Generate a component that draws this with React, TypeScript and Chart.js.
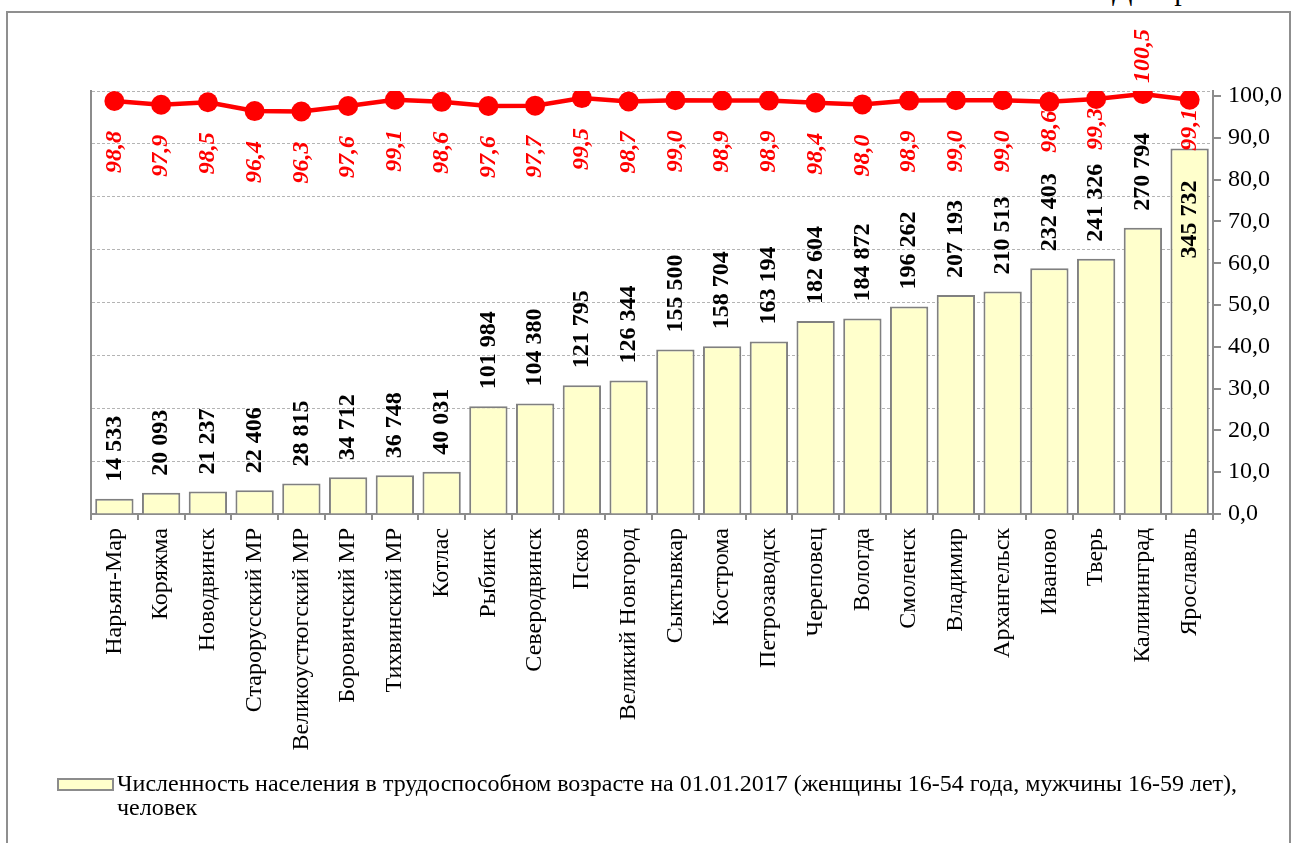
import React, { useEffect, useRef } from "react";
import { Chart, registerables } from "chart.js";

Chart.register(...registerables);

const categories: string[] = [
  "Нарьян-Мар", "Коряжма", "Новодвинск", "Старорусский МР", "Великоустюгский МР",
  "Боровичский МР", "Тихвинский МР", "Котлас", "Рыбинск", "Северодвинск", "Псков",
  "Великий Новгород", "Сыктывкар", "Кострома", "Петрозаводск", "Череповец", "Вологда",
  "Смоленск", "Владимир", "Архангельск", "Иваново", "Тверь", "Калининград", "Ярославль",
];

const population: number[] = [
  14533, 20093, 21237, 22406, 28815, 34712, 36748, 40031, 101984, 104380, 121795,
  126344, 155500, 158704, 163194, 182604, 184872, 196262, 207193, 210513, 232403,
  241326, 270794, 345732,
];

const ratio: number[] = [
  98.8, 97.9, 98.5, 96.4, 96.3, 97.6, 99.1, 98.6, 97.6, 97.7, 99.5, 98.7, 99.0,
  98.9, 98.9, 98.4, 98.0, 98.9, 99.0, 99.0, 98.6, 99.3, 100.5, 99.1,
];

const rightTicks: number[] = [0, 10, 20, 30, 40, 50, 60, 70, 80, 90, 100];

const legendLine1 =
  "Численность населения в трудоспособном возрасте на 01.01.2017 (женщины 16-54 года, мужчины 16-59 лет),";
const legendLine2 = "человек";

// red labels that were placed closer to their points in the original
const nearLabels = new Set([20, 21, 23]);

const FONT = "'Liberation Serif', 'Times New Roman', serif";
const FS = 24;

const fmtInt = (v: number) => String(v).replace(/\B(?=(\d{3})+(?!\d))/g, " ");
const fmtDec = (v: number) => v.toFixed(1).replace(".", ",");

const labelPlugin = {
  id: "customLabels",
  afterDatasetsDraw(chart: any) {
    const ctx = chart.ctx;
    const area = chart.chartArea;
    ctx.save();
    const barMeta = chart.getDatasetMeta(1);
    ctx.font = `bold ${FS}px ${FONT}`;
    ctx.fillStyle = "#000";
    ctx.textBaseline = "middle";
    barMeta.data.forEach((el: any, i: number) => {
      const txt = fmtInt(population[i]);
      const w = ctx.measureText(txt).width;
      ctx.save();
      if (el.y - 17 - w < area.top) {
        ctx.translate(el.x, el.y + 32);
        ctx.rotate(-Math.PI / 2);
        ctx.textAlign = "right";
      } else {
        ctx.translate(el.x, el.y - 17);
        ctx.rotate(-Math.PI / 2);
        ctx.textAlign = "left";
      }
      ctx.fillText(txt, 0, 0);
      ctx.restore();
    });
    const lineMeta = chart.getDatasetMeta(0);
    ctx.font = `italic bold ${FS}px ${FONT}`;
    ctx.fillStyle = "#FF0000";
    lineMeta.data.forEach((el: any, i: number) => {
      const v = ratio[i];
      const txt = fmtDec(v);
      ctx.save();
      if (v > 100) {
        ctx.translate(el.x, el.y - 11);
        ctx.rotate(-Math.PI / 2);
        ctx.textAlign = "left";
      } else {
        const off = nearLabels.has(i) ? 9 : 30;
        ctx.translate(el.x, el.y + off);
        ctx.rotate(-Math.PI / 2);
        ctx.textAlign = "right";
      }
      ctx.fillText(txt, 0, 0);
      ctx.restore();
    });
    ctx.restore();
  },
};

export default function App() {
  const ref = useRef<HTMLCanvasElement | null>(null);

  useEffect(() => {
    if (!ref.current) return;
    Chart.defaults.font.family = FONT;
    const chart = new Chart(ref.current, {
      type: "bar",
      data: {
        labels: categories,
        datasets: [
          {
            type: "line",
            label: "ratio",
            data: ratio,
            yAxisID: "y1",
            borderColor: "#FF0000",
            backgroundColor: "#FF0000",
            borderWidth: 4.5,
            pointRadius: 10,
            pointBorderWidth: 0,
            pointBackgroundColor: "#FF0000",
            tension: 0,
            order: 0,
          } as any,
          {
            type: "bar",
            label: legendLine1 + " " + legendLine2,
            data: population,
            yAxisID: "y",
            backgroundColor: "#FFFFCC",
            borderColor: "#808080",
            borderWidth: 2,
            barPercentage: 0.82,
            categoryPercentage: 1,
            order: 1,
          },
        ],
      },
      options: {
        responsive: false,
        animation: false,
        devicePixelRatio: 1,
        layout: { padding: { left: 91, top: 91, right: 8, bottom: 79 } },
        plugins: {
          legend: { display: false },
          tooltip: { enabled: false },
          title: { display: false },
        },
        scales: {
          x: {
            type: "category",
            offset: true,
            grid: {
              display: true,
              offset: true,
              drawOnChartArea: false,
              drawTicks: true,
              tickLength: 6,
              color: "#8c8c8c",
              lineWidth: 2,
            },
            border: { display: true, color: "#8c8c8c", width: 2 },
            ticks: {
              minRotation: 90,
              maxRotation: 90,
              autoSkip: false,
              color: "#000",
              padding: 8,
              font: { size: FS, family: FONT },
            },
            afterFit: (s: any) => {
              s.height = 250;
            },
          },
          y: {
            position: "left",
            min: 0,
            max: 400000,
            ticks: { display: false, stepSize: 50000 },
            grid: {
              display: true,
              drawTicks: false,
              tickLength: 0,
              color: "#b4b4b4",
              lineWidth: 1,
            },
            border: { display: true, color: "#8c8c8c", width: 2, dash: [3, 2] } as any,
            afterFit: (s: any) => {
              s.width = 0;
            },
          },
          y1: {
            position: "right",
            min: 0,
            max: 101.2,
            afterBuildTicks: (s: any) => {
              s.ticks = rightTicks.map((v) => ({ value: v }));
            },
            ticks: {
              color: "#000",
              padding: 7,
              font: { size: FS, family: FONT },
              callback: (v: any) => fmtDec(Number(v)),
            },
            grid: {
              display: true,
              drawOnChartArea: false,
              drawTicks: true,
              tickLength: 8,
              color: "#8c8c8c",
              lineWidth: 2,
            },
            border: { display: true, color: "#8c8c8c", width: 2 },
            afterFit: (s: any) => {
              s.width = 70;
            },
          },
        },
      },
      plugins: [labelPlugin],
    });
    return () => chart.destroy();
  }, []);

  return (
    <div
      style={{
        position: "fixed",
        left: 0,
        top: 0,
        width: 1291,
        height: 843,
        overflow: "hidden",
        background: "#fff",
        fontFamily: FONT,
      }}
    >
      <div
        style={{
          position: "absolute",
          left: 1112,
          top: -25,
          fontSize: 30,
          lineHeight: "30px",
          whiteSpace: "nowrap",
          color: "#000",
        }}
      >
        Диаграмма
      </div>
      <div
        style={{
          position: "absolute",
          left: 6,
          top: 11,
          width: 1281,
          height: 900,
          border: "2px solid #8f8f8f",
        }}
      />
      <canvas
        ref={ref}
        width={1291}
        height={843}
        style={{ position: "absolute", left: 0, top: 0, width: 1291, height: 843 }}
      />
      <div
        style={{
          position: "absolute",
          left: 57,
          top: 778,
          width: 53,
          height: 9,
          background: "#FFFFCC",
          border: "2px solid #8c8c8c",
        }}
      />
      <div
        style={{
          position: "absolute",
          left: 117,
          top: 771,
          fontSize: FS,
          lineHeight: "24px",
          whiteSpace: "nowrap",
          color: "#000",
        }}
      >
        {legendLine1}
        <br />
        {legendLine2}
      </div>
    </div>
  );
}
